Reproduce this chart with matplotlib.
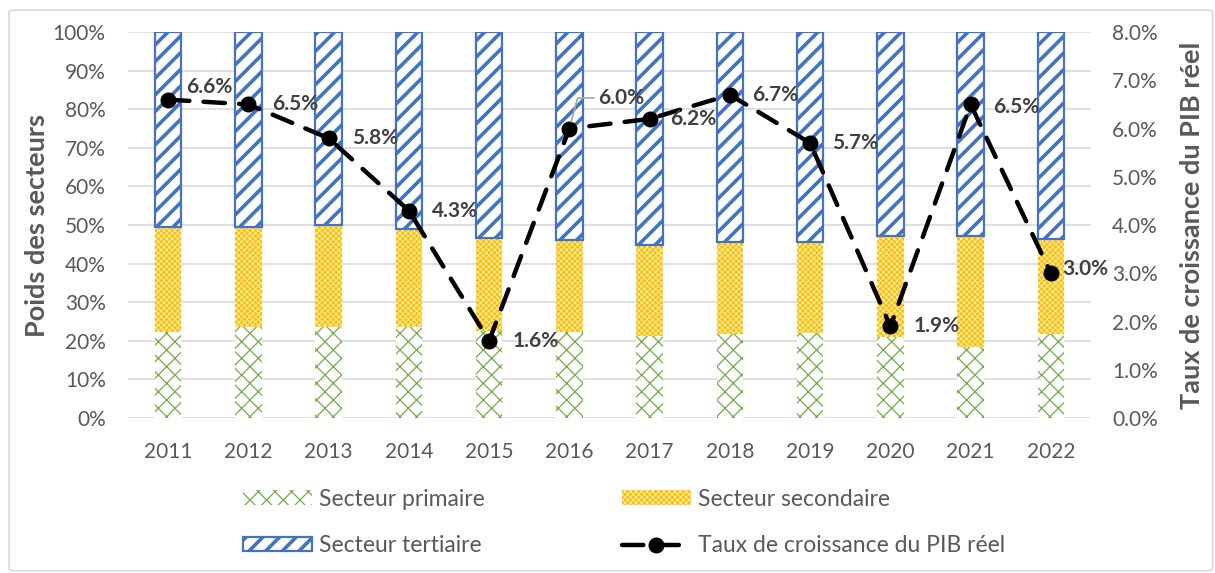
import matplotlib
matplotlib.use("Agg")
import matplotlib.pyplot as plt
import matplotlib.patches as mpatches
import numpy as np

plt.rcParams['font.family'] = ['Lato', 'DejaVu Sans']

# Données
annees = ['2011', '2012', '2013', '2014', '2015', '2016',
          '2017', '2018', '2019', '2020', '2021', '2022']
primaire = [22.2, 23.6, 23.7, 23.6, 22.5, 22.2, 21.2, 21.8, 22.0, 21.0, 18.5, 21.7]
secondaire = [27.2, 25.8, 26.3, 25.3, 24.2, 23.9, 23.6, 23.9, 23.7, 26.2, 28.7, 24.6]
tertiaire = [50.6, 50.6, 50.0, 51.1, 53.3, 53.9, 55.2, 54.3, 54.3, 52.8, 52.8, 53.7]
croissance = [6.6, 6.5, 5.8, 4.3, 1.6, 6.0, 6.2, 6.7, 5.7, 1.9, 6.5, 3.0]

GRIS = '#595959'
VERT = '#70AD47'
JAUNE = '#FFC000'
BLEU = '#4472C4'
HACH_LW = {'Secteur primaire': 0.9, 'Secteur secondaire': 0.45,
           'Secteur tertiaire': 2.6}

fig = plt.figure(figsize=(12.15, 5.73), dpi=100)
ax = fig.add_axes([0.1053, 0.2705, 0.7927, 0.6735])
ax2 = ax.twinx()

x = np.arange(len(annees))
w = 0.33


def fixe_hachure(patch, lw):
    if hasattr(patch, 'set_hatch_linewidth'):
        patch.set_hatch_linewidth(lw)


def barres(*args, label, **kwargs):
    lw = HACH_LW[label]
    with plt.rc_context({'hatch.linewidth': lw}):
        bars = ax.bar(*args, label=label, **kwargs)
    for b in bars:
        fixe_hachure(b, lw)
    return bars


b1 = barres(x, primaire, w, facecolor='white', edgecolor=VERT,
            linewidth=0, hatch='xx', label='Secteur primaire')
b2 = barres(x, secondaire, w, bottom=primaire, facecolor=JAUNE,
            edgecolor='white', linewidth=0, hatch='xxxxxx',
            label='Secteur secondaire')
bas3 = np.array(primaire) + np.array(secondaire)
b3 = barres(x, tertiaire, w, bottom=bas3, facecolor='white',
            edgecolor=BLEU, linewidth=1.6, hatch='//',
            label='Secteur tertiaire')

ax.set_ylim(0, 100)
ax.set_xlim(-0.5, len(annees) - 0.5)
ax.set_yticks(np.arange(0, 101, 10))
ax.set_yticklabels([f'{v}%' for v in range(0, 101, 10)])
ax.set_xticks(x)
ax.set_xticklabels(annees)
ax.grid(axis='y', color='#D9D9D9', linewidth=1.2)
ax.set_axisbelow(True)
for s in ax.spines.values():
    s.set_visible(False)
for s in ax2.spines.values():
    s.set_visible(False)
ax.tick_params(axis='both', length=0, labelsize=15, labelcolor=GRIS)
ax.tick_params(axis='y', pad=16)
ax.tick_params(axis='x', pad=17)
ax.set_ylabel('Poids des secteurs', fontsize=19.5, fontweight='bold',
              color=GRIS, labelpad=3)

ligne, = ax2.plot(x, croissance, color='black', linewidth=3.2,
                  marker='o', markersize=10.5, dashes=(4.8, 3.2),
                  dash_capstyle='round', label='Taux de croissance du PIB réel')
ax2.set_ylim(0, 8)
ax2.set_yticks(np.arange(0, 8.1, 1))
ax2.set_yticklabels([f'{v:.1f}%' for v in np.arange(0, 8.1, 1)])
ax2.tick_params(axis='y', length=0, labelsize=15, labelcolor=GRIS, pad=15)
ax2.set_ylabel('Taux de croissance du PIB réel', fontsize=19.5,
               fontweight='bold', color=GRIS, labelpad=16)

# étiquettes de données
decalages = [(13, 9), (17, 0), (17, 0), (17, 0), (17, 0), (21, 22),
             (15, 0), (16, 0), (16, 0), (17, 0), (16, -2), (8, 3)]
for i, (v, d) in enumerate(zip(croissance, decalages)):
    kw = {}
    if i == 5:
        kw['arrowprops'] = dict(arrowstyle='-', color='#A6A6A6', lw=1.2,
                                shrinkA=1, shrinkB=5, relpos=(0, 0.5),
                                connectionstyle='angle,angleA=180,angleB=75,rad=0')
    ax2.annotate(f'{v:.1f}%', xy=(x[i], v), xytext=d,
                 textcoords='offset points', ha='left', va='center',
                 fontsize=15, fontweight='bold', color='#404040', **kw)

# légende
handles = [b1, b3, b2, ligne]
labels = [h.get_label() for h in handles]
leg = fig.legend(handles=handles, labels=labels,
                 ncol=2, loc='upper left', bbox_to_anchor=(0.2, 0.147),
                 frameon=False, fontsize=16.5, handlelength=3.0,
                 handleheight=0.6, handletextpad=0.3, columnspacing=6.0,
                 labelspacing=1.11, borderpad=0, borderaxespad=0)
for t in leg.get_texts():
    t.set_color(GRIS)
for h, lab in zip(leg.legend_handles, labels):
    if lab in HACH_LW:
        fixe_hachure(h, HACH_LW[lab])

# cadre du graphique
cadre = mpatches.FancyBboxPatch((9 / 1215, 0.004), 1 - 9 / 1215 - 0.002,
                                1 - 9 / 573 - 0.006,
                                boxstyle='round,pad=0,rounding_size=0.004',
                                transform=fig.transFigure, facecolor='none',
                                edgecolor='#D9D9D9', linewidth=1.2)
fig.patches.append(cadre)

fig.savefig('out.png', dpi=100)
